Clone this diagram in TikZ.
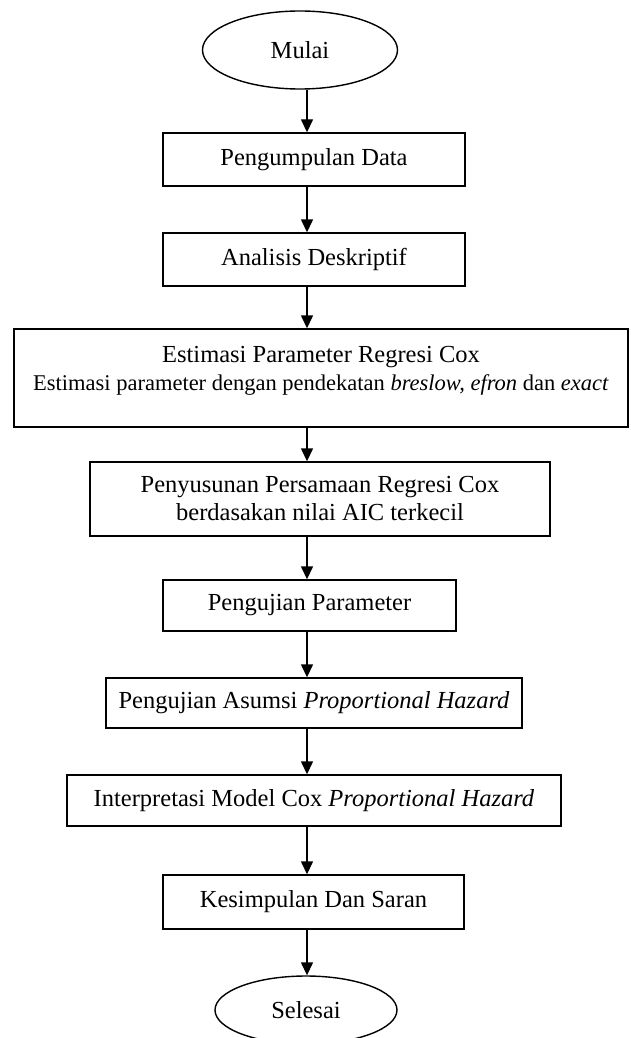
\documentclass[tikz,border=0pt]{standalone}
\usepackage{fontspec}
\setmainfont{Liberation Serif}
\usetikzlibrary{shapes.geometric,arrows.meta}

\begin{document}
\begin{tikzpicture}[x=1pt,y=-1pt]

\tikzset{
  stepbox/.style={draw=black, line width=1.4pt, inner sep=0pt, align=center, font=\fontsize{24.5}{28}\selectfont},
  terminal/.style={draw=black, ellipse, line width=1.4pt, inner sep=0pt, font=\fontsize{24.5}{28}\selectfont},
  flow/.style={-{Triangle[length=13pt,width=12pt]}, line width=1.4pt}
}

\useasboundingbox (0,0) rectangle (630,1038);
\coordinate (axis) at (307,0);

\node[terminal, minimum width=195pt, minimum height=78pt] (mulai) at (300,50) {Mulai};
\node[stepbox, minimum width=302pt, minimum height=53pt] (data) at (314,159.5) {Pengumpulan Data};
\node[stepbox, minimum width=302pt, minimum height=53pt] (desk) at (314,259.5) {Analisis Deskriptif};
\node[stepbox, minimum width=614pt, minimum height=98pt] (estim) at (321,378)
  {Estimasi Parameter Regresi Cox\\
   {\fontsize{22.5}{27}\selectfont Estimasi parameter dengan pendekatan \textit{breslow, efron} dan \textit{exact}}\\[-8pt]};
\node[stepbox, minimum width=460pt, minimum height=74pt] (susun) at (320,499)
  {Penyusunan Persamaan Regresi Cox\\berdasakan nilai AIC terkecil};
\node[stepbox, minimum width=293pt, minimum height=51pt] (uji) at (309.5,605.5) {Pengujian Parameter};
\node[stepbox, minimum width=416pt, minimum height=50pt] (asumsi) at (314,703)
  {Pengujian Asumsi \textit{Proportional Hazard}};
\node[stepbox, minimum width=494pt, minimum height=51pt] (interp) at (314,800.5)
  {Interpretasi Model Cox \textit{Proportional Hazard}};
\node[stepbox, minimum width=301pt, minimum height=54pt] (simpul) at (313.5,902) {Kesimpulan Dan Saran};
\node[terminal, minimum width=182pt, minimum height=68pt] (selesai) at (306,1010) {Selesai};

\draw[flow] (mulai.south -| axis) -- (data.north -| axis);
\draw[flow] (data.south -| axis) -- (desk.north -| axis);
\draw[flow] (desk.south -| axis) -- (estim.north -| axis);
\draw[flow] (estim.south -| axis) -- (susun.north -| axis);
\draw[flow] (susun.south -| axis) -- (uji.north -| axis);
\draw[flow] (uji.south -| axis) -- (asumsi.north -| axis);
\draw[flow] (asumsi.south -| axis) -- (interp.north -| axis);
\draw[flow] (interp.south -| axis) -- (simpul.north -| axis);
\draw[flow] (simpul.south -| axis) -- (selesai.north -| axis);

\end{tikzpicture}
\end{document}
